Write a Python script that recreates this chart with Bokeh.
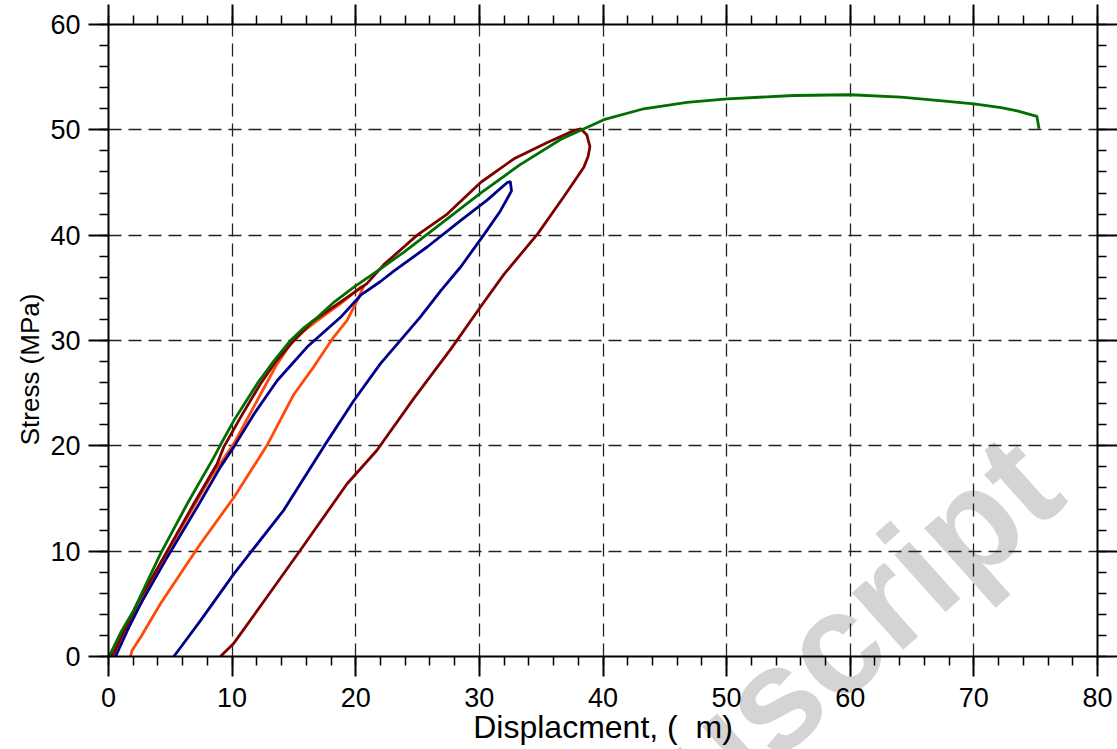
from bokeh.plotting import figure
from bokeh.layouts import column
from bokeh.models import (Range1d, LinearAxis, SingleIntervalTicker, Label,
                          CustomJSTickFormatter)
from bokeh.embed import file_html
from bokeh.resources import INLINE

# Load-unload cycle to 35 MPa
cyc35_x = [0.2, 0.5, 1.0, 1.6, 2.6, 4.2, 6.37, 8.25, 10.14, 12.3, 13.5, 14.72, 15.8, 16.9,
           18.77, 20.4, 20.66, 20.25, 19.3, 18.2, 16.6, 15.0, 12.8, 10.14, 7.44, 4.2, 2.6,
           1.9, 1.78]
cyc35_y = [0.0, 1.0, 2.0, 3.0, 5.0, 8.8, 13.2, 17.0, 20.2, 24.9, 27.5, 29.7, 30.9, 31.9,
           33.5, 35.06, 35.2, 34.1, 31.9, 30.3, 27.5, 24.9, 20.0, 15.1, 10.7, 5.0, 1.83,
           0.57, 0.0]

# Load-unload cycle to 45 MPa
cyc45_x = [0.57, 1.5, 2.6, 4.75, 7.18, 9.06, 10.14, 11.76, 13.65, 16.08, 18.77, 20.4,
           22.0, 23.1, 25.8, 28.5, 30.6, 32.26, 32.5, 32.6, 31.7, 30.4, 28.5, 26.9, 25.2,
           22.0, 19.85, 17.4, 14.18, 10.14, 7.44, 5.6, 5.28]
cyc45_y = [0.0, 2.4, 5.0, 9.43, 14.2, 18.0, 19.9, 23.0, 26.2, 29.4, 32.2, 34.3,
           35.6, 36.6, 38.9, 41.4, 43.3, 45.0, 45.1, 44.2, 42.3, 40.1, 37.0, 34.75, 32.2,
           27.8, 24.3, 19.9, 13.9, 7.85, 3.4, 0.5, 0.0]

# Load-unload cycle to 50 MPa
cyc50_x = [0.2, 0.43, 1.3, 2.32, 4.47, 6.9, 8.79, 9.33, 10.68, 12.3, 13.6, 15.0, 16.5,
           18.2, 20.9, 22.27, 24.97, 27.4, 30.1, 32.8, 35.5, 37.6, 38.2, 38.7, 38.94, 38.8,
           38.45, 36.8, 34.7, 32.0, 30.1, 27.7, 24.7, 21.7, 19.3, 15.5, 12.3, 10.1, 9.4, 9.06]
cyc50_y = [0.0, 0.28, 2.5, 5.0, 9.43, 14.5, 18.3, 19.9, 22.7, 25.9, 28.1, 30.0, 31.8,
           33.2, 35.4, 37.2, 40.0, 42.0, 45.0, 47.25, 48.8, 49.9, 50.1, 49.5, 48.4, 47.5,
           46.45, 43.6, 40.1, 36.3, 33.2, 29.2, 24.5, 19.56, 16.4, 10.06, 4.8, 1.2, 0.4, 0.0]

# Monotonic loading to failure
mono_x = [0.0, 0.16, 1.0, 2.05, 4.2, 6.37, 8.52, 9.06, 10.14, 12.03, 13.4, 14.72, 15.8,
          16.9, 18.3, 19.85, 22.0, 23.9, 26.9, 30.1, 33.3, 36.6, 40.07, 43.3, 46.8, 50.06,
          55.4, 60.0, 64.1, 67.0, 70.0, 72.2, 73.5, 75.1, 75.27]
mono_y = [0.0, 0.28, 2.3, 4.4, 9.75, 14.5, 18.9, 20.1, 22.4, 25.9, 28.1, 30.0, 31.2,
          32.2, 33.7, 35.06, 36.8, 38.4, 41.1, 44.0, 46.7, 49.1, 50.96, 52.0, 52.6, 52.94,
          53.26, 53.33, 53.1, 52.8, 52.47, 52.1, 51.8, 51.27, 50.1]

FONT = "Liberation Sans"
W, H = 1117, 749
LEFT, RIGHT, TOP, BOTTOM = 108, 20, 24, 93
X0, X1, Y0, Y1 = 0, 80, 0, 60

p = figure(width=W, height=H, output_backend="svg", toolbar_location=None,
           x_range=Range1d(X0, X1), y_range=Range1d(Y0, Y1),
           min_border_left=LEFT, min_border_right=RIGHT, min_border_top=TOP,
           min_border_bottom=BOTTOM, frame_align=False)
p.background_fill_color = None
p.border_fill_color = None
p.outline_line_color = None


def style_axis(ax, labels=True):
    ax.ticker = SingleIntervalTicker(interval=10, num_minor_ticks=5)
    ax.axis_line_width = 2
    ax.axis_line_color = "black"
    ax.major_tick_line_width = 2
    ax.major_tick_line_color = "black"
    ax.minor_tick_line_width = 1.5
    ax.minor_tick_line_color = "black"
    ax.major_tick_in = 0
    ax.major_tick_out = 20
    ax.minor_tick_in = 0
    ax.minor_tick_out = 9
    if labels:
        ax.major_label_text_font = FONT
        ax.major_label_text_font_size = "27px"
        ax.major_label_text_color = "black"
        ax.major_label_standoff = 8
    else:
        ax.formatter = CustomJSTickFormatter(code="return ''")
        ax.major_label_text_font_size = "1px"
        ax.major_label_standoff = 0


bottom_ax = p.xaxis[0]
left_ax = p.yaxis[0]
style_axis(bottom_ax)
style_axis(left_ax)
bottom_ax.major_label_standoff = 11
top_ax = LinearAxis()
right_ax = LinearAxis()
style_axis(top_ax, labels=False)
style_axis(right_ax, labels=False)
p.add_layout(top_ax, "above")
p.add_layout(right_ax, "right")

for g in (p.xgrid[0], p.ygrid[0]):
    g.grid_line_color = "#222222"
    g.grid_line_width = 1.3
    g.grid_line_dash = "13 7"

p.line(cyc35_x, cyc35_y, line_color="#ff4a0a", line_width=2.8)
p.line(cyc45_x, cyc45_y, line_color="#00008b", line_width=2.8)
p.line(cyc50_x, cyc50_y, line_color="#800000", line_width=2.8)
p.line(mono_x, mono_y, line_color="#006e00", line_width=2.8)

# Backdrop canvas under the chart; its data coordinates line up with the chart's
# frame, so the axis titles and the watermark can sit outside that frame.
sx = (W - LEFT - RIGHT) / (X1 - X0)
sy = (H - TOP - BOTTOM) / (Y1 - Y0)
back = figure(width=W, height=H, output_backend="svg", toolbar_location=None,
              x_range=Range1d(X0 - LEFT / sx, X1 + RIGHT / sx),
              y_range=Range1d(Y0 - BOTTOM / sy, Y1 + TOP / sy),
              min_border=0, x_axis_location=None, y_axis_location=None,
              frame_align=False)
back.grid.visible = False
back.outline_line_color = None
back.background_fill_color = "white"
back.border_fill_color = "white"
back.add_layout(Label(x=75.07, y=18.33, text="Manuscript", angle=0.73, angle_units="rad",
                      text_align="right", text_baseline="alphabetic",
                      text_font=FONT, text_font_size="145px", text_font_style="bold",
                      text_color="#d4d4d4"))
back.add_layout(Label(x=40, y=-6.74, text="Displacment, (\u00a0\u00a0m)",
                      text_align="center", text_baseline="middle",
                      text_font=FONT, text_font_size="32px", text_color="black"))
back.add_layout(Label(x=-6.39, y=27.25, text="Stress (MPa)", angle=1.5708,
                      angle_units="rad", text_align="center", text_baseline="middle",
                      text_font=FONT, text_font_size="26px", text_color="black"))

p.margin = (-H, 0, 0, 0)
page = column(back, p, spacing=0)

open("out.html", "w").write(file_html(page, INLINE))
